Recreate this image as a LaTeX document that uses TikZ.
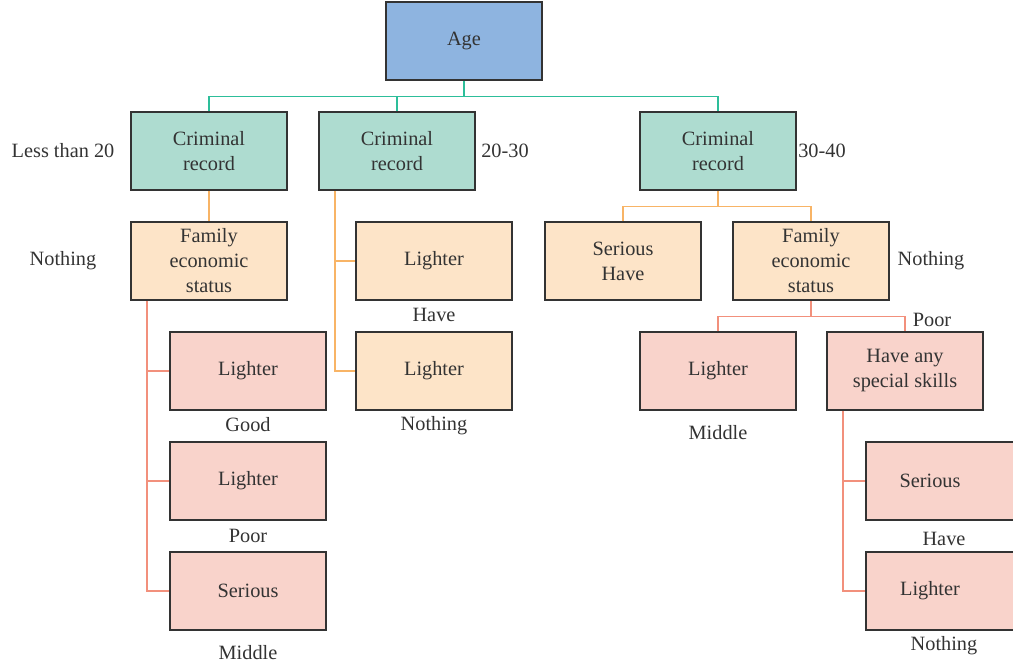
\documentclass[tikz,border=0pt]{standalone}
\usepackage{fontspec}
\setmainfont{Liberation Serif}
\definecolor{ageblue}{HTML}{8EB4E0}
\definecolor{tealfill}{HTML}{AEDCD0}
\definecolor{peach}{HTML}{FDE4C8}
\definecolor{pink}{HTML}{F9D3CB}
\definecolor{tealline}{HTML}{2DBE9A}
\definecolor{orangeline}{HTML}{F8B466}
\definecolor{redline}{HTML}{F2907C}
\definecolor{boxline}{HTML}{333333}
\definecolor{txt}{HTML}{333333}
\begin{document}
\begin{tikzpicture}[x=1pt,y=-1pt,
  box/.style={draw=boxline, line width=1.5pt, minimum width=156pt, minimum height=78pt, align=center, inner sep=0pt, font=\fontsize{20.3}{25}\selectfont, text=txt},
  agebox/.style={box, fill=ageblue},
  tbox/.style={box, fill=tealfill},
  pbox/.style={box, fill=peach},
  rbox/.style={box, fill=pink},
  lab/.style={font=\fontsize{20.3}{25}\selectfont, text=txt, inner sep=0pt},
  tl/.style={draw=tealline, line width=1.4pt},
  ol/.style={draw=orangeline, line width=1.4pt},
  rl/.style={draw=redline, line width=1.4pt}]
\useasboundingbox (0,0) rectangle (1013,665);
% nodes
\node[agebox] (age) at (464,41) {Age};
\node[tbox] (cr1) at (209,151) {Criminal\\record};
\node[tbox] (cr2) at (397,151) {Criminal\\record};
\node[tbox] (cr3) at (718,151) {Criminal\\record};
\node[pbox] (fes1) at (209,261) {Family\\economic\\status};
\node[pbox] (l21) at (434,261) {Lighter};
\node[pbox] (l22) at (434,371) {Lighter};
\node[pbox] (sh) at (623,261) {Serious\\Have};
\node[pbox] (fes2) at (811,261) {Family\\economic\\status};
\node[rbox] (l11) at (248,371) {Lighter};
\node[rbox] (l12) at (248,481) {Lighter};
\node[rbox] (s13) at (248,591) {Serious};
\node[rbox] (l31) at (718,371) {Lighter};
\node[rbox] (hass) at (905,371) {Have any\\special skills};
\node[rbox] (s41) at (944,481) {\hspace*{-28pt}Serious};
\node[rbox] (l42) at (944,591) {\hspace*{-28pt}Lighter};
% labels
\node[lab] (t1) at (63,151) {Less than 20};
\node[lab] (t2) at (505,151) {20-30};
\node[lab] (t3) at (822,151) {30-40};
\node[lab] (t4) at (63,261) {Nothing};
\node[lab] (t5) at (931,261) {Nothing};
\node[lab] (t6) at (434,315) {Have};
\node[lab] (t7) at (434,426) {Nothing};
\node[lab] (t8) at (932,320) {Poor};
\node[lab] (t9) at (718,433) {Middle};
\node[lab] (t10) at (248,425) {Good};
\node[lab] (t11) at (248,536) {Poor};
\node[lab] (t12) at (248,653) {Middle};
\node[lab] (t13) at (944,539) {Have};
\node[lab] (t14) at (944,646) {Nothing};
% connectors
\path[tl] (age.south) -- ++(0,16) coordinate (ab);
\path[tl] (cr1.north) |- (ab) -| (cr3.north);
\path[tl] (cr2.north) -- (cr2.north |- ab);
\path[ol] (cr1.south) -- (fes1.north);
\path[ol] (cr2.south -| 335,0) |- (l22.west);
\path[ol] (335,261) -- (l21.west);
\path[ol] (cr3.south) -- ++(0,16) coordinate (cb);
\path[ol] (sh.north) |- (cb) -| (fes2.north);
\path[rl] (fes2.south) -- ++(0,16) coordinate (fb);
\path[rl] (l31.north) |- (fb) -| (hass.north);
\path[rl] (fes1.south -| 147,0) |- (s13.west);
\path[rl] (147,371) -- (l11.west);
\path[rl] (147,481) -- (l12.west);
\path[rl] (hass.south -| 843,0) |- (l42.west);
\path[rl] (843,481) -- (s41.west);
\end{tikzpicture}
\end{document}
